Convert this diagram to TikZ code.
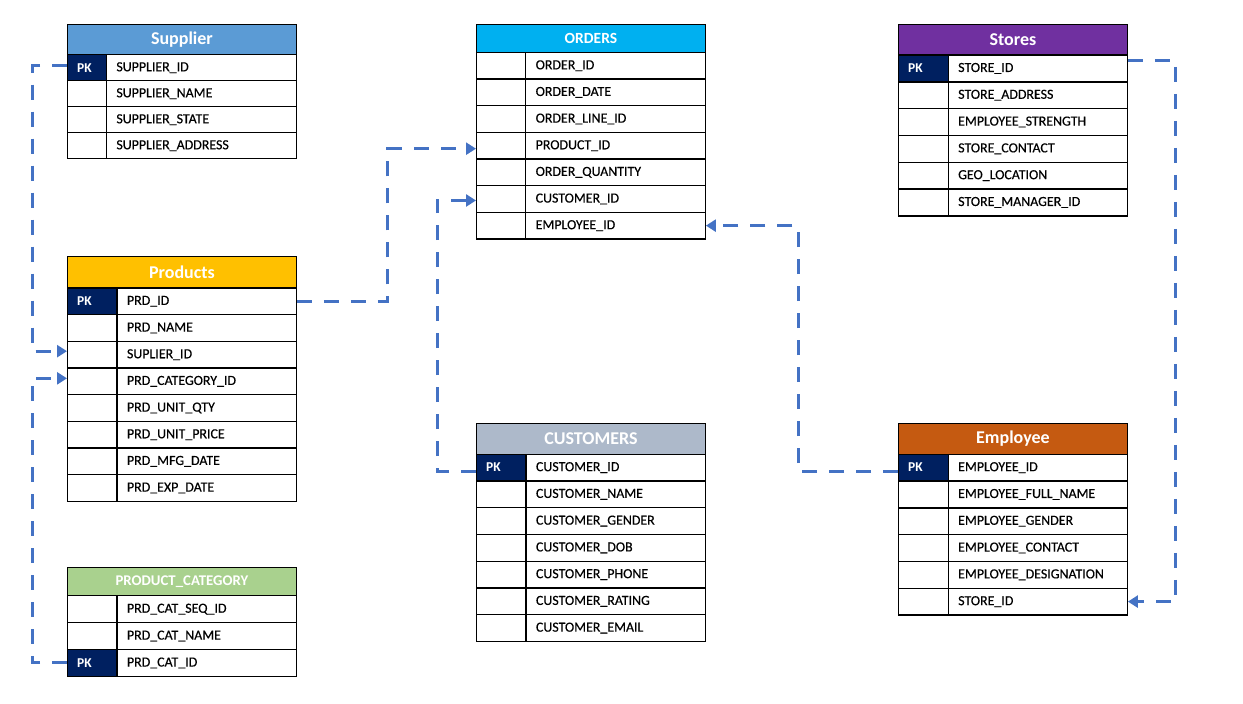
\documentclass[tikz,border=0pt]{standalone}
\usepackage{fontspec}
\setmainfont{Carlito}
\newfontfamily\rowfont[FakeBold=0.35]{Carlito}
\usetikzlibrary{arrows.meta,calc}
\definecolor{supC}{HTML}{5B9BD5}
\definecolor{ordC}{HTML}{00B0F0}
\definecolor{prdC}{HTML}{FFC000}
\definecolor{catC}{HTML}{A9D18E}
\definecolor{stoC}{HTML}{7030A0}
\definecolor{cusC}{HTML}{ADB9CA}
\definecolor{empC}{HTML}{C55A11}
\definecolor{pkC}{HTML}{002060}
\definecolor{fkC}{HTML}{4472C4}
\def\pkstr{PK}
\tikzset{
 hdrcell/.style={draw=black, line width=1.4pt, minimum width=228.5pt, inner sep=0pt, text=white, font=\fontsize{18}{20}\selectfont\bfseries},
 keycell/.style={draw=black, line width=1.4pt, inner xsep=9.5pt, inner ysep=0pt, align=left, font=\fontsize{13.5}{15}\selectfont\bfseries, text=white},
 txtcell/.style={draw=black, line width=1.4pt, fill=white, inner xsep=10pt, inner ysep=0pt, align=left, font=\rowfont\fontsize{13.9}{16}\selectfont},
 fk/.style={draw=fkC, line width=3pt, dash pattern=on 15pt off 12pt, -{Triangle[length=10pt,width=12pt]}},
}
% #1 prefix, #2 x, #3 y top, #4 header height, #5 row height, #6 key width, #7 colour, #8 title, #9 rows
\newcommand{\ertable}[9]{%
  \node[hdrcell, fill=#7, minimum height=#4pt, anchor=north west] (#1-h) at (#2,#3) {#8};
  \pgfmathsetmacro{\twid}{228.5-#6-20}%
  \pgfmathsetmacro{\kwid}{#6-19}%
  \foreach \k/\t [count=\i] in {#9}{%
    \pgfmathsetmacro{\yy}{#3+#4+(\i-1)*#5}%
    \ifx\k\pkstr
      \node[keycell, fill=pkC, text width=\kwid pt, minimum height=#5pt, anchor=north west] (#1-k\i) at (#2,\yy) {PK};
    \else
      \node[keycell, fill=white, text width=\kwid pt, minimum height=#5pt, anchor=north west] (#1-k\i) at (#2,\yy) {};
    \fi
    \node[txtcell, text width=\twid pt, minimum height=#5pt, anchor=north west] (#1-t\i) at (#2+#6,\yy) {\t};
  }%
}
\begin{document}
\begin{tikzpicture}[x=1pt,y=-1pt]
\fill[white] (0,0) rectangle (1243,704);
\useasboundingbox (0,0) rectangle (1243,704);

\ertable{sup}{67}{23.5}{30.5}{26}{38.7}{supC}{Supplier}{PK/SUPPLIER\_ID,x/SUPPLIER\_NAME,x/SUPPLIER\_STATE,x/SUPPLIER\_ADDRESS}

\ertable{ord}{476}{23.5}{28.2}{26.65}{49}{ordC}{\fontsize{15.5}{17}\selectfont ORDERS}{x/ORDER\_ID,x/ORDER\_DATE,x/ORDER\_LINE\_ID,x/PRODUCT\_ID,x/ORDER\_QUANTITY,x/CUSTOMER\_ID,x/EMPLOYEE\_ID}

\ertable{prd}{67}{256}{31.3}{26.67}{49.3}{prdC}{Products}{PK/PRD\_ID,x/PRD\_NAME,x/SUPLIER\_ID,x/PRD\_CATEGORY\_ID,x/PRD\_UNIT\_QTY,x/PRD\_UNIT\_PRICE,x/PRD\_MFG\_DATE,x/PRD\_EXP\_DATE}

\ertable{cat}{67}{567}{28}{26.9}{49.3}{catC}{\fontsize{14.8}{16}\selectfont PRODUCT\_CATEGORY}{x/PRD\_CAT\_SEQ\_ID,x/PRD\_CAT\_NAME,PK/PRD\_CAT\_ID}

\ertable{sto}{898}{23.5}{30.8}{26.8}{49.5}{stoC}{Stores}{PK/STORE\_ID,x/STORE\_ADDRESS,x/EMPLOYEE\_STRENGTH,x/STORE\_CONTACT,x/GEO\_LOCATION,x/STORE\_MANAGER\_ID}

\ertable{cus}{476}{423}{30.5}{26.75}{49.3}{cusC}{CUSTOMERS}{PK/CUSTOMER\_ID,x/CUSTOMER\_NAME,x/CUSTOMER\_GENDER,x/CUSTOMER\_DOB,x/CUSTOMER\_PHONE,x/CUSTOMER\_RATING,x/CUSTOMER\_EMAIL}

\ertable{emp}{898}{423}{30.5}{26.8}{49.5}{empC}{Employee}{PK/EMPLOYEE\_ID,x/EMPLOYEE\_FULL\_NAME,x/EMPLOYEE\_GENDER,x/EMPLOYEE\_CONTACT,x/EMPLOYEE\_DESIGNATION,x/STORE\_ID}

% connectors
\draw[fk] ($(sup-k1.west)+(0,-2)$) -- ++(-35,0) |- ($(prd-k3.west)+(0,-3.5)$);
\draw[fk] (cat-k3.west) -- ++(-35,0) |- ($(prd-k4.west)+(0,-3)$);
\draw[fk] (prd-t1.east) -- ++(91,0) |- ($(ord-k4.west)+(0,3)$);
\draw[fk] ($(cus-k1.west)+(0,3.5)$) -- ++(-39,0) |- ($(ord-k6.west)+(0,1.5)$);
\draw[fk] ($(emp-k1.west)+(0,3.5)$) -- ++(-100,0) |- (ord-t7.east);
\draw[fk] ($(sto-t1.east)+(0,-7.5)$) -- ++(48,0) |- (emp-t6.east);
\end{tikzpicture}
\end{document}
